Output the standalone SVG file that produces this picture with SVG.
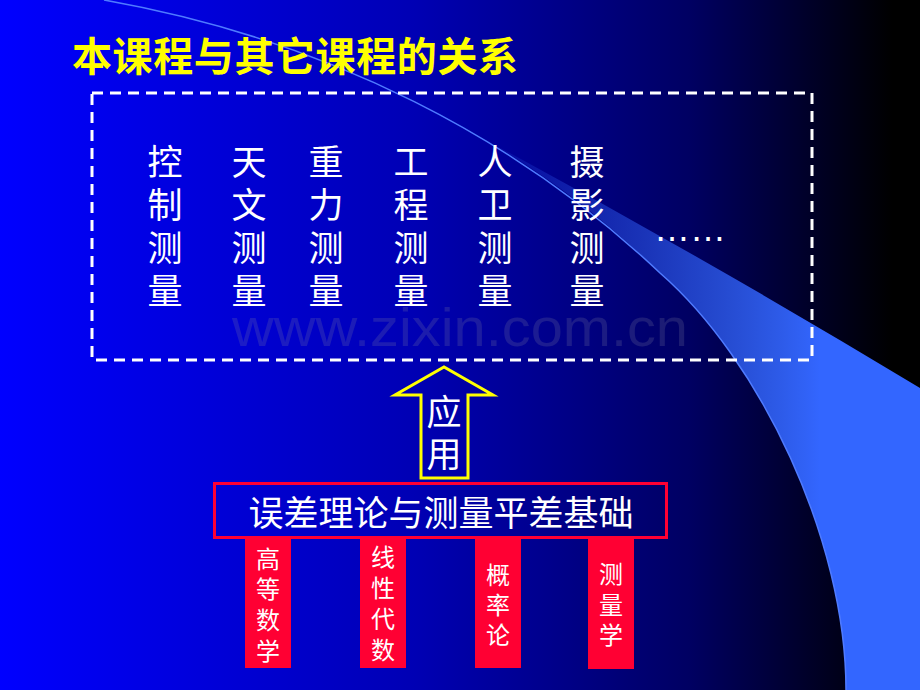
<svg xmlns="http://www.w3.org/2000/svg" width="920" height="690" viewBox="0 0 920 690">
<defs>
<linearGradient id="bg" x1="0" y1="0" x2="1" y2="0">
<stop offset="0" stop-color="#0000FF"/>
<stop offset="0.45" stop-color="#0000B4"/>
<stop offset="0.75" stop-color="#000062"/>
<stop offset="0.97" stop-color="#000000"/>
</linearGradient>
<linearGradient id="wedge" gradientUnits="userSpaceOnUse" x1="480" y1="0" x2="820" y2="0">
<stop offset="0" stop-color="#3366FF" stop-opacity="0.05"/>
<stop offset="1" stop-color="#3366FF" stop-opacity="1"/>
</linearGradient>
<style>
.title{font-family:"Noto Sans CJK SC",sans-serif;font-size:40px;font-weight:bold;fill:#FFFF00}
.top{font-family:"Noto Sans CJK SC",sans-serif;font-size:35px;fill:#FFFFFF;text-anchor:middle}
.small{font-family:"Noto Sans CJK SC",sans-serif;font-size:24px;fill:#FFFFFF;text-anchor:middle}
.col{fill:#FF0033}
</style>
</defs>
<rect x="0" y="0" width="920" height="690" fill="url(#bg)"/>
<g id="swoosh">
<path d="M480 137 Q700 255 920 388 L920 690 L846 690 C846 540 760 360 660 273 C610 224 550 176 480 137 Z" fill="url(#wedge)"/>
<path d="M104 0 C330 40 520 140 660 273 C760 360 846 540 846 690" fill="none" stroke="#4F7BFF" stroke-width="1.5"/>
</g>
<text x="232" y="346" font-family="Liberation Sans, sans-serif" font-size="54" textLength="456" lengthAdjust="spacingAndGlyphs" fill="#8080A0" fill-opacity="0.22">www.zixin.com.cn</text>
<text class="title" x="72" y="71" textLength="446">本课程与其它课程的关系</text>
<g id="applications">
<rect x="92" y="93" width="720" height="267" fill="none" stroke="#FFFFFF" stroke-width="3" stroke-dasharray="11 7"/>
<g id="col-kongzhi"><text class="top" x="165" y="175">控<tspan x="165" dy="43">制</tspan><tspan x="165" dy="43">测</tspan><tspan x="165" dy="43">量</tspan></text></g>
<g id="col-tianwen"><text class="top" x="249" y="175">天<tspan x="249" dy="43">文</tspan><tspan x="249" dy="43">测</tspan><tspan x="249" dy="43">量</tspan></text></g>
<g id="col-zhongli"><text class="top" x="326" y="175">重<tspan x="326" dy="43">力</tspan><tspan x="326" dy="43">测</tspan><tspan x="326" dy="43">量</tspan></text></g>
<g id="col-gongcheng"><text class="top" x="411" y="175">工<tspan x="411" dy="43">程</tspan><tspan x="411" dy="43">测</tspan><tspan x="411" dy="43">量</tspan></text></g>
<g id="col-renwei"><text class="top" x="495" y="175">人<tspan x="495" dy="43">卫</tspan><tspan x="495" dy="43">测</tspan><tspan x="495" dy="43">量</tspan></text></g>
<g id="col-sheying"><text class="top" x="587" y="175">摄<tspan x="587" dy="43">影</tspan><tspan x="587" dy="43">测</tspan><tspan x="587" dy="43">量</tspan></text></g>
<text x="654" y="241" font-family="Liberation Sans, sans-serif" font-size="36" fill="#FFFFFF">……</text>
</g>
<g id="connectors">
<path d="M421 478 L421 395 L395 395 L444 367 L493 395 L468 395 L468 478 Z" fill="none" stroke="#FFFF00" stroke-width="3" stroke-linejoin="miter"/>
<text class="top" x="444" y="425">应<tspan x="444" dy="42">用</tspan></text>
</g>
<g id="foundation">
<rect x="214.5" y="483.5" width="452" height="54" fill="none" stroke="#FF0033" stroke-width="3"/>
<text class="top" x="441" y="526">误差理论与测量平差基础</text>
</g>
<g id="gaodengshuxue">
<rect class="col" x="245" y="539" width="46" height="129"/>
<text class="small" x="268" y="568">高<tspan x="268" dy="30">等</tspan><tspan x="268" dy="31">数</tspan><tspan x="268" dy="31">学</tspan></text>
</g>
<g id="xianxingdaishu">
<rect class="col" x="360" y="539" width="46" height="129"/>
<text class="small" x="383" y="566">线<tspan x="383" dy="31">性</tspan><tspan x="383" dy="31">代</tspan><tspan x="383" dy="31">数</tspan></text>
</g>
<g id="gailvlun">
<rect class="col" x="475" y="539" width="46" height="129"/>
<text class="small" x="498" y="584">概<tspan x="498" dy="30">率</tspan><tspan x="498" dy="30">论</tspan></text>
</g>
<g id="celiangxue">
<rect class="col" x="588" y="539" width="46" height="130"/>
<text class="small" x="611" y="583">测<tspan x="611" dy="31">量</tspan><tspan x="611" dy="30">学</tspan></text>
</g>
</svg>
